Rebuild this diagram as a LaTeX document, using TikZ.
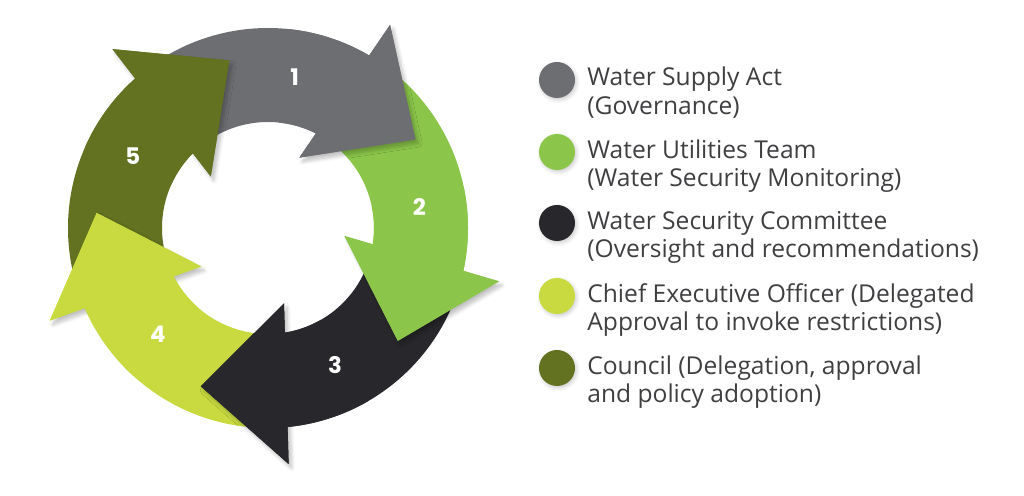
\documentclass[tikz,border=0pt]{standalone}
\usepackage{fontspec}
\setmainfont{Open Sans}
\newfontfamily\numfont{Poppins}
\usetikzlibrary{calc,shadows.blur}
\definecolor{actgray}{HTML}{6D6E72}
\definecolor{teamgreen}{HTML}{8BC64A}
\definecolor{cttblack}{HTML}{28282C}
\definecolor{ceolime}{HTML}{C8DA40}
\definecolor{counolive}{HTML}{627220}
\definecolor{legendtext}{HTML}{3F3F42}
\begin{document}
\begin{tikzpicture}[x=0.02cm, y=0.02cm, every node/.style={font=\fontsize{14}{16.5}\selectfont, text=legendtext, inner sep=0pt}]
\useasboundingbox (0,0) rectangle (1024,496);
\coordinate (c) at (268,268);
% ring bodies, tail tucked under the previous head
\foreach \b/\col in {62/actgray, -10/teamgreen, -82/cttblack, -154/ceolime, 134/counolive}
  \fill[\col] ($(c)+(\b+68:200)$) arc[start angle=\b+68, end angle=\b-3.5, radius=200] -- ($(c)+(\b+0.5:106)$) arc[start angle=\b+0.5, end angle=\b+68, radius=106] -- cycle;
% heads on top: shadow, own body again (hides the shadow there), head
\foreach \b/\col in {62/actgray, -10/teamgreen, -82/cttblack, -154/ceolime, 134/counolive} {
  \fill[\col, blur shadow={shadow xshift=0.6mm, shadow yshift=-0.8mm, shadow opacity=25, shadow blur steps=6}] ($(c)+(\b+4:77)$) -- ($(c)+(\b-3:237)$) -- ($(c)+(\b-31:172)$) -- cycle;
  \fill[\col] ($(c)+(\b+22:200)$) arc[start angle=\b+22, end angle=\b-3.5, radius=200] -- ($(c)+(\b+0.5:106)$) arc[start angle=\b+0.5, end angle=\b+22, radius=106] -- cycle;
  \fill[\col] ($(c)+(\b+4:77)$) -- ($(c)+(\b-3:237)$) -- ($(c)+(\b-31:172)$) -- cycle;
}
% step numbers
\foreach \b/\n in {62/1, -10/2, -82/3, -154/4, 134/5}
  \node[font=\numfont\bfseries\fontsize{13}{13}\selectfont, text=white] (num\n) at ($(c)+(\b+18:153)$) {\n};

% legend
\foreach \y/\col/\nm/\txt in {416/actgray/act/{Water Supply Act\\(Governance)},
    344/teamgreen/team/{Water Utilities Team\\(Water Security Monitoring)},
    273/cttblack/ctt/{Water Security Committee\\(Oversight and recommendations)},
    200/ceolime/ceo/{Chief Executive Officer (Delegated\\Approval to invoke restrictions)},
    128/counolive/coun/{Council (Delegation, approval\\and policy adoption)}} {
  \node[circle, fill=\col, minimum size=36*0.02cm, blur shadow={shadow xshift=0.3mm, shadow yshift=-0.4mm, shadow opacity=20}] (dot\nm) at (557,\y) {};
  \node[anchor=base west, align=left] (lbl\nm) at (587,\y-35) {\txt};
}
\end{tikzpicture}
\end{document}
